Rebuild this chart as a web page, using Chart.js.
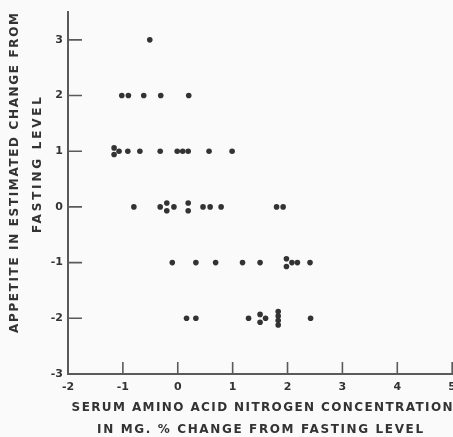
<!DOCTYPE html>
<html>
<head>
<meta charset="utf-8">
<script src="https://cdn.jsdelivr.net/npm/chart.js@4/dist/chart.umd.min.js"></script>
<style>
    html, body { margin:0; padding:0; overflow:hidden; background:#fafafa; }
    canvas { display:block; }
</style>
</head>
<body>
<canvas id="appetiteChart" width="463" height="437"></canvas>
<script>
// serum amino acid N change (mg %) for each subject
var serumChange = [
    -0.51,
    -1.02, -0.90, -0.62, -0.31, 0.20,
    -1.16, -1.16, -1.07, -0.91, -0.69, -0.32, -0.01, 0.09, 0.19, 0.57, 0.99,
    -0.80, -0.32, -0.20, -0.20, -0.07, 0.19, 0.19, 0.46, 0.59, 0.79, 1.80, 1.92,
    -0.10, 0.33, 0.69, 1.18, 1.50, 1.98, 1.98, 2.08, 2.18, 2.41,
    0.16, 0.33, 1.29, 1.50, 1.50, 1.60, 1.83, 1.83, 1.83, 1.83, 2.42
];
// estimated appetite change (coincident points stacked a little)
var appetiteChange = [
    3,
    2, 2, 2, 2, 2,
    1.06, 0.94, 1, 1, 1, 1, 1, 1, 1, 1, 1,
    0, 0, 0.07, -0.07, 0, 0.07, -0.07, 0, 0, 0, 0, 0,
    -1, -1, -1, -1, -1, -0.93, -1.07, -1, -1, -1,
    -2, -2, -2, -1.93, -2.07, -2, -1.88, -1.96, -2.04, -2.12, -2
];
var xTitle = ["SERUM AMINO ACID NITROGEN CONCENTRATION", "IN MG. % CHANGE FROM FASTING LEVEL"];
var yTitle = ["APPETITE IN ESTIMATED CHANGE FROM", "FASTING LEVEL"];

var points = [];
for (let i = 0; i < serumChange.length; i++) {
    points.push({x: serumChange[i], y: appetiteChange[i]});
}

var inkColor = '#333333';
var axisColor = '#5a5a5a';

// write a line of text stretched to a given width with letter spacing
function drawSpaced(ctx, text, cx, cy, width) {
    ctx.letterSpacing = '0px';
    let w = ctx.measureText(text).width;
    let gap = (width - w) / (text.length - 1);
    ctx.letterSpacing = gap + 'px';
    ctx.textAlign = 'left';
    ctx.textBaseline = 'middle';
    ctx.fillText(text, cx - width / 2, cy);
}

// inward tick marks and the axis captions
var axisDecor = {
    id: 'axisDecor',
    afterDraw(chart) {
        let ctx = chart.ctx;
        let area = chart.chartArea;
        let xs = chart.scales.x, ys = chart.scales.y;
        ctx.save();
        ctx.strokeStyle = axisColor;
        ctx.lineWidth = 1.6;
        ctx.beginPath();
        ys.ticks.forEach(function(t) {
            if (t.value === ys.min) return;
            let py = ys.getPixelForValue(t.value);
            ctx.moveTo(area.left, py);
            ctx.lineTo(area.left + 14, py);
        });
        xs.ticks.forEach(function(t) {
            if (t.value === xs.min) return;
            let px = xs.getPixelForValue(t.value);
            ctx.moveTo(px, area.bottom);
            ctx.lineTo(px, area.bottom - 12);
        });
        ctx.stroke();

        ctx.fillStyle = inkColor;
        ctx.font = 'bold 12px "DejaVu Sans"';
        let mid = (area.left + area.right) / 2;
        drawSpaced(ctx, xTitle[0], mid + 2, area.bottom + 34, 381);
        drawSpaced(ctx, xTitle[1], mid, area.bottom + 56, 326);

        ctx.translate(15, 173);
        ctx.rotate(-Math.PI / 2);
        drawSpaced(ctx, yTitle[0], 0, 0, 320);
        ctx.rotate(Math.PI / 2);
        ctx.translate(23, -8);
        ctx.rotate(-Math.PI / 2);
        drawSpaced(ctx, yTitle[1], 0, 0, 136);
        ctx.restore();
    }
};

var tickFont = {family: 'DejaVu Sans', weight: 'bold', size: 11};

var appetiteChart = new Chart($id("appetiteChart"), {
    type: 'scatter',
    data: {
        datasets: [{
            data: points,
            pointRadius: 2.8,
            pointBackgroundColor: inkColor,
            pointBorderWidth: 0
        }]
    },
    options: {
        responsive: false,
        animation: false,
        layout: { padding: {top: 12, right: 6, left: 0, bottom: 0} },
        plugins: {
            legend: { display: false },
            tooltip: { enabled: false }
        },
        scales: {
            x: {
                type: 'linear',
                min: -2,
                max: 5,
                grid: { display: false, drawTicks: false, tickLength: 0 },
                border: { display: true, color: axisColor, width: 2 },
                ticks: { stepSize: 1, padding: 7, color: inkColor, font: tickFont, includeBounds: false },
                afterFit: function(scale) { scale.height = 63; }
            },
            y: {
                type: 'linear',
                min: -3,
                max: 3.5,
                grid: { display: false, drawTicks: false, tickLength: 0 },
                border: { display: true, color: axisColor, width: 2 },
                ticks: { stepSize: 1, padding: 5, color: inkColor, font: tickFont, includeBounds: false },
                afterFit: function(scale) { scale.width = 68; }
            }
        }
    },
    plugins: [axisDecor]
});

function $id(id) { return document.getElementById(id); }
</script>
</body>
</html>
